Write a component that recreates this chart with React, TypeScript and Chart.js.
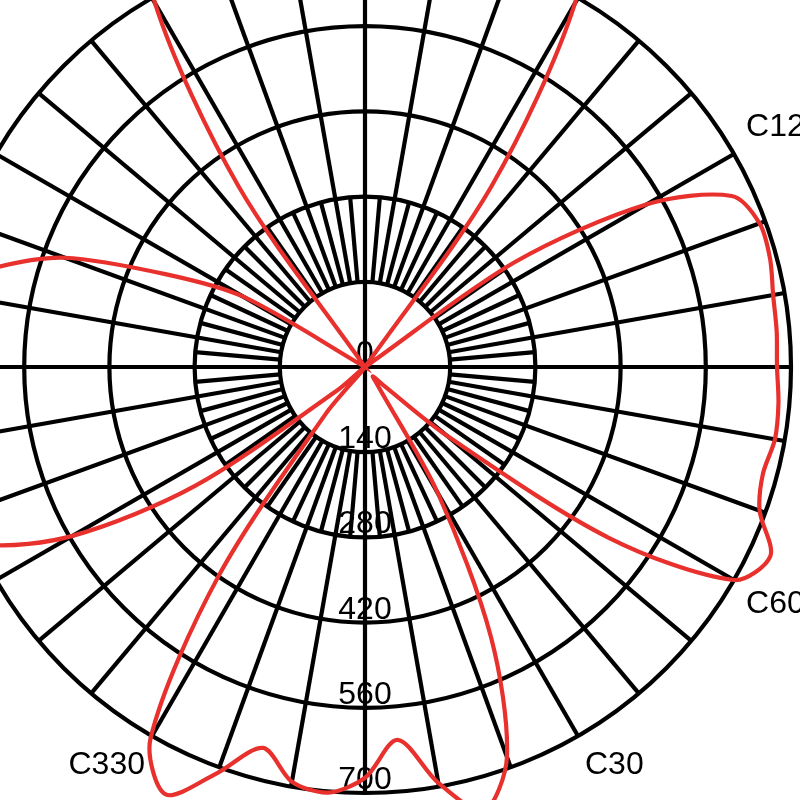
import React, { useEffect, useRef } from 'react';
import { Chart, registerables } from 'chart.js';

Chart.register(...registerables);

// C-plane angles in degrees, 5 degree steps
const cAngles = [
  0, 5, 10, 15, 20, 25, 30, 35, 40, 45, 50, 55,
  60, 65, 70, 75, 80, 85, 90, 95, 100, 105, 110, 115,
  120, 125, 130, 135, 140, 145, 150, 155, 160, 165, 170, 175,
  180, 185, 190, 195, 200, 205, 210, 215, 220, 225, 230, 235,
  240, 245, 250, 255, 260, 265, 270, 275, 280, 285, 290, 295,
  300, 305, 310, 315, 320, 325, 330, 335, 340, 345, 350, 355,
];

// intensity for each C-plane above
const intensity = [
  675, 615, 694, 755, 682, 490, 240, 35, 20, 41, 176, 490,
  700, 735, 690, 677, 684, 682, 677, 679, 681, 689, 690, 665,
  535, 300, 0, 0, 0, 362, 690, 850, 950, 1000, 1020, 1030,
  1030, 1030, 1020, 1000, 950, 850, 690, 362, 0, 0, 0, 0,
  231, 360, 525, 630, 720, 780, 800, 800, 790, 770, 740, 690,
  555, 340, 60, 0, 100, 420, 705, 775, 710, 648, 692, 702,
];

const tickValues = [0, 140, 280, 420, 560, 700];
const cLabelAngles = [0, 30, 60, 90, 120, 150, 180, 210, 240, 270, 300, 330];

const RED = 'rgb(232, 48, 45)';
const FONT = '32px "Liberation Sans", Arial, sans-serif';
const LINE = 4.2;

// radar goes clockwise from the bottom, the C-planes go the other way
const n = cAngles.length;
const order = cAngles.map((_, i) => (n - i) % n);
const labels = order.map((k) => 'C' + cAngles[k]);
const values = order.map((k) => intensity[k]);
const idxOf = (c: number) => (n - cAngles.indexOf(c)) % n;

const polarGrid = {
  id: 'polarGrid',
  beforeDatasetsDraw(chart: any) {
    const s = chart.scales.r;
    const ctx = chart.ctx as CanvasRenderingContext2D;
    ctx.save();
    ctx.strokeStyle = '#000';
    ctx.lineWidth = LINE;
    cAngles.forEach((c) => {
      const i = idxOf(c);
      const from = c % 90 === 0 ? 0 : tickValues[1];
      const to = c % 10 === 0 ? tickValues[5] : tickValues[2];
      const a = s.getPointPosition(i, s.getDistanceFromCenterForValue(from));
      const b = s.getPointPosition(i, s.getDistanceFromCenterForValue(to));
      ctx.beginPath();
      ctx.moveTo(a.x, a.y);
      ctx.lineTo(b.x, b.y);
      ctx.stroke();
    });

    ctx.fillStyle = '#000';
    ctx.font = FONT;
    ctx.textAlign = 'center';
    ctx.textBaseline = 'alphabetic';
    s.ticks.forEach((t: any) => {
      const p = s.getPointPosition(idxOf(0), s.getDistanceFromCenterForValue(t.value));
      ctx.fillText(String(t.value), p.x, p.y - 4);
    });

    ctx.textBaseline = 'middle';
    cLabelAngles.forEach((c) => {
      const p = s.getPointPosition(idxOf(c), s.drawingArea + 14);
      const dx = p.x - s.xCenter;
      const dy = p.y - s.yCenter;
      ctx.textAlign = Math.abs(dx) < 1 ? 'center' : dx > 0 ? 'left' : 'right';
      const y = Math.abs(dy) < 1 ? p.y : p.y + (dy > 0 ? 17 : -20);
      ctx.fillText('C' + c, p.x, y);
    });
    ctx.restore();
  },
};

const App = () => {
  const canvasRef = useRef<HTMLCanvasElement>(null);
  const chartRef = useRef<Chart | null>(null);

  useEffect(() => {
    const ctx = canvasRef.current?.getContext('2d');
    if (chartRef.current) chartRef.current.destroy();
    if (ctx) {
      chartRef.current = new Chart(ctx, {
        type: 'radar',
        data: {
          labels,
          datasets: [{
            data: values,
            borderColor: RED,
            borderWidth: LINE,
            pointRadius: 0,
            fill: false,
            tension: 0.3,
            clip: false,
          } as any],
        },
        options: {
          animation: false,
          responsive: true,
          maintainAspectRatio: false,
          layout: { padding: 74 },
          plugins: {
            legend: { display: false },
            tooltip: { enabled: false },
          },
          scales: {
            r: {
              min: 0,
              max: 700,
              startAngle: 180,
              ticks: { display: false, stepSize: 140 },
              grid: { color: '#000', lineWidth: LINE, circular: true },
              angleLines: { display: false },
              pointLabels: { display: false },
            },
          },
        },
        plugins: [polarGrid],
      });
    }
    return () => {
      if (chartRef.current) {
        chartRef.current.destroy();
        chartRef.current = null;
      }
    };
  }, []);

  return (
    <div style={{ position: 'fixed', inset: 0, overflow: 'hidden', background: '#fff' }}>
      <div style={{ position: 'absolute', left: -135, top: -133, width: 1000, height: 1000 }}>
        <canvas ref={canvasRef} />
      </div>
    </div>
  );
};

export default App;
